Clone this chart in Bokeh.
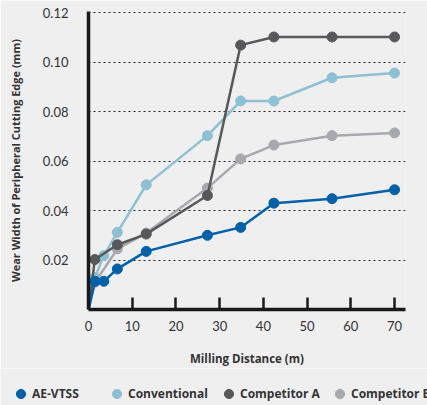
import re
from bokeh.plotting import figure
from bokeh.layouts import column
from bokeh.models import Range1d, FixedTicker, Legend, LegendItem, NumeralTickFormatter
from bokeh.embed import file_html
from bokeh.resources import INLINE

# Data
distance = [0, 1.5, 3.5, 6.6, 13.2, 27.2, 34.8, 42.4, 55.7, 70]
ae_vtss = [0, 0.0114, 0.0114, 0.0164, 0.0235, 0.0300, 0.0332, 0.0430, 0.0448, 0.0484]
conventional = [0, 0.0130, 0.0218, 0.0312, 0.0504, 0.0703, 0.0843, 0.0843, 0.0937, 0.0956]
comp_a_x = [0, 1.45, 6.6, 13.2, 27.2, 34.8, 42.4, 55.7, 70]
competitor_a = [0, 0.0202, 0.0262, 0.0305, 0.0461, 0.1069, 0.1102, 0.1102, 0.1102]
comp_b_x = [0, 1.5, 6.6, 13.2, 27.2, 34.8, 42.4, 55.7, 70]
competitor_b = [0, 0.0110, 0.0245, 0.0309, 0.0491, 0.0609, 0.0665, 0.0703, 0.0714]

series_names = ["AE-VTSS", "Conventional", "Competitor A", "Competitor B"]
colors = ["#0061A8", "#8DC0D3", "#58585A", "#A8A9AC"]
x_ticks = [0, 10, 20, 30, 40, 50, 60, 70]
y_ticks = [0.02, 0.04, 0.06, 0.08, 0.10, 0.12]

BG = "#EFEFF0"
FONT = "Lato"
TFONT = "Open Sans"
TXT = "#333333"

p = figure(width=427, height=368, output_backend="svg", toolbar_location=None,
           x_range=Range1d(0, 72.5), y_range=Range1d(0, 0.1205),
           min_border_left=88, min_border_right=22, min_border_top=11, min_border_bottom=59)
p.frame_align = False
p.background_fill_color = BG
p.border_fill_color = BG
p.outline_line_color = None

p.xgrid.grid_line_color = None
p.ygrid.grid_line_color = "#222222"
p.ygrid.grid_line_dash = "2 3"
p.ygrid.grid_line_width = 1.2
p.ygrid.ticker = FixedTicker(ticks=y_ticks)

# axes
p.xaxis.ticker = FixedTicker(ticks=x_ticks)
p.yaxis.ticker = FixedTicker(ticks=y_ticks)
p.yaxis.formatter = NumeralTickFormatter(format="0.00")
for ax in (p.xaxis[0], p.yaxis[0]):
    ax.axis_line_color = "#1a1a1a"
    ax.axis_line_width = 3.5
    ax.major_label_text_font = FONT
    ax.major_label_text_font_size = "13px"
    ax.major_label_text_color = TXT
    ax.axis_label_text_font = TFONT
    ax.axis_label_text_font_style = "bold"
    ax.axis_label_text_color = TXT
    ax.minor_tick_line_color = None
p.xaxis.axis_label_text_font_size = "11.5px"
p.yaxis.axis_label_text_font_size = "11px"
p.xaxis.major_tick_in = 12
p.xaxis.major_tick_out = 0
p.xaxis.major_tick_line_width = 2.5
p.xaxis.major_tick_line_color = "#1a1a1a"
p.xaxis.major_label_standoff = 11
p.xaxis.axis_label = "Milling Distance (m)"
p.xaxis.axis_label_standoff = 17
p.yaxis.major_tick_line_color = None
p.yaxis.major_tick_in = 0
p.yaxis.major_tick_out = 0
p.yaxis.major_label_standoff = 20
p.yaxis.axis_label = "Wear Width of Peripheral Cutting Edge (mm)"
p.yaxis.axis_label_standoff = 17

xs = {"AE-VTSS": distance, "Conventional": distance,
      "Competitor A": comp_a_x, "Competitor B": comp_b_x}
ys = {"AE-VTSS": ae_vtss, "Conventional": conventional,
      "Competitor A": competitor_a, "Competitor B": competitor_b}
col = dict(zip(series_names, colors))

for name in ["Conventional", "Competitor B", "Competitor A", "AE-VTSS"]:
    p.line(xs[name], ys[name], line_color=col[name], line_width=2.5)
    p.scatter(xs[name][1:], ys[name][1:], marker="circle", size=10,
              fill_color=col[name], line_color=col[name])

# legend strip (separate figure so the legend is not clipped by the plot frame);
# its ranges keep the series' markers out of view, only the legend shows
lg = figure(width=427, height=37, output_backend="svg", toolbar_location=None,
            x_range=Range1d(0, 1), y_range=Range1d(10, 11),
            x_axis_location=None, y_axis_location=None,
            min_border_left=0, min_border_right=0, min_border_top=0, min_border_bottom=0)
lg.frame_align = False
lg.background_fill_color = BG
lg.border_fill_color = BG
lg.outline_line_color = None
lg.grid.visible = False

legend_x = [9, 105, 217, 328]   # screen positions of the legend entries
for name, lx in zip(series_names, legend_x):
    r = lg.scatter(xs[name][1:], ys[name][1:], marker="circle", size=10,
                   fill_color=col[name], line_color=col[name])
    leg = Legend(items=[LegendItem(label=name, renderers=[r])], location=(lx, 0))
    leg.background_fill_alpha = 0
    leg.border_line_color = None
    leg.padding = 0
    leg.margin = 0
    leg.glyph_width = 23
    leg.glyph_height = 23
    leg.label_standoff = 0
    leg.label_text_font = TFONT
    leg.label_text_font_style = "bold"
    leg.label_text_font_size = "12px"
    leg.label_text_color = TXT
    lg.add_layout(leg, "center")

layout = column(p, lg, spacing=0)
html = file_html(layout, INLINE)
html = re.sub(r"<body([^>]*)>", r'<body\1 style="background:%s">' % BG, html, count=1)
open("out.html", "w").write(html)
